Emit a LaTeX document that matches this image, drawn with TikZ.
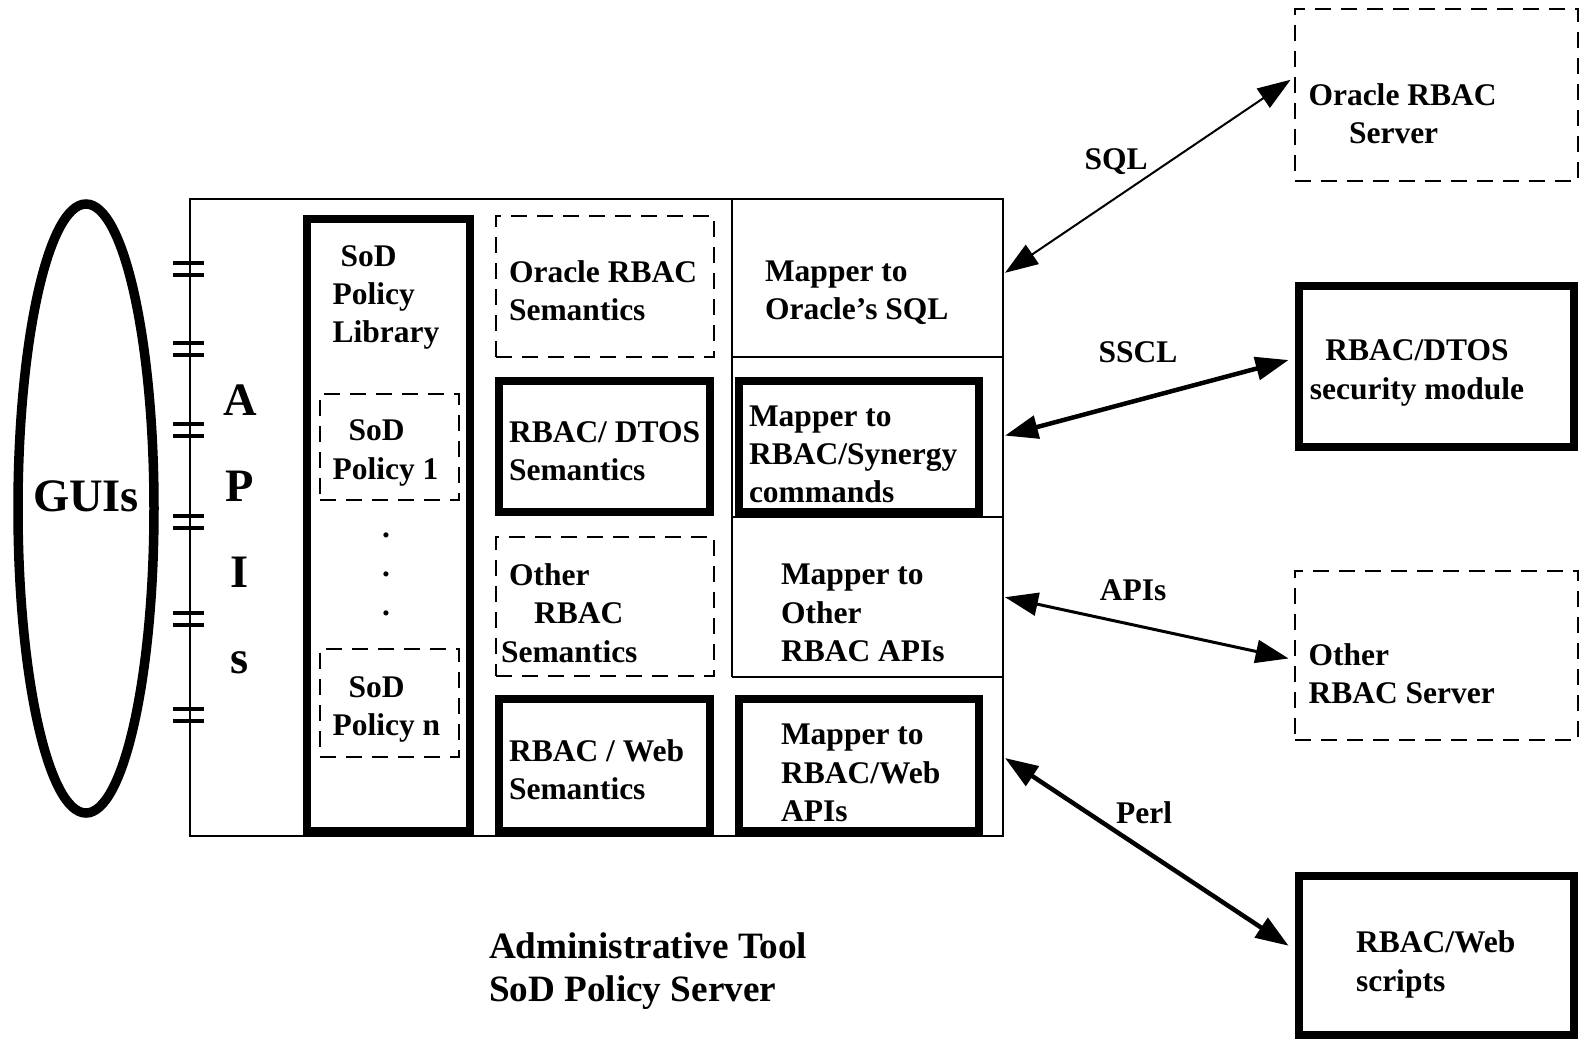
\documentclass[tikz,border=0pt]{standalone}
\usepackage{fontspec}
\setmainfont{Liberation Serif}
\usetikzlibrary{arrows.meta,calc,shapes.geometric}
\begin{document}
\begin{tikzpicture}[x=1pt,y=-1pt,
  thinline/.style={line width=2pt},
  tickline/.style={line width=4pt},
  thickbox/.style={draw, rectangle, line width=8pt, inner sep=0pt, outer sep=0pt},
  dashbox/.style={draw, rectangle, line width=2pt, dash pattern=on 16pt off 10pt, inner sep=0pt, outer sep=0pt},
  cellbox/.style={rectangle, inner sep=0pt, outer sep=0pt},
  txt/.style={font=\bfseries\fontsize{31.5pt}{38.3pt}\selectfont, align=left, inner sep=0pt, outer sep=0pt, anchor=west},
  ctxt/.style={txt, align=center, anchor=center},
  bigtxt/.style={font=\bfseries\fontsize{46.5pt}{85pt}\selectfont, align=center, inner sep=0pt, anchor=center},
  biarrow/.style={{Triangle[length=33pt,width=23pt]}-{Triangle[length=33pt,width=23pt]}}
]
\useasboundingbox (0,0) rectangle (1581,1044);

% GUIs ellipse
\node[draw, ellipse, line width=9.5pt, minimum width=136pt, minimum height=609pt, inner sep=0pt] (gui) at (86,508.5) {};
\node[bigtxt] (tgui) at (86,496) {GUIs};

% main box
\draw[thinline] (189.5,198.6) rectangle (1003,835.6);

% API ticks
\foreach \t in {269,349,430,522,619,715} {
  \draw[tickline] (173,\t-6) -- (204,\t-6);
  \draw[tickline] (173,\t+6) -- (204,\t+6);
}
\node[bigtxt, font=\bfseries\fontsize{46.5pt}{86pt}\selectfont] (tapis) at (240,529) {A\\P\\I\\s};

% SoD policy library
\node[thickbox, minimum width=163.3pt, minimum height=611.6pt] (lib) at (388.15,524.8) {};
\node[txt] (tlib) at (332.6,297.5) {\hspace*{8pt}SoD\\Policy\\Library};
\node[dashbox, minimum width=139pt, minimum height=106pt] (pol1) at (389,447) {};
\node[txt] (tpol1) at (332.6,453) {\hspace*{16pt}SoD\\Policy 1};
\node[dashbox, minimum width=139pt, minimum height=108pt] (poln) at (389,703) {};
\node[txt] (tpoln) at (332.6,709.5) {\hspace*{16pt}SoD\\Policy n};
\node[ctxt, font=\bfseries\fontsize{31.5pt}{39pt}\selectfont] (tdots) at (386,574) {.\\.\\.};

% semantics column
\node[dashbox, minimum width=217.7pt, minimum height=141.1pt] (semora) at (604.85,286.25) {};
\node[txt] (tsemora) at (509,290.5) {Oracle RBAC\\Semantics};
\node[thickbox, minimum width=210.7pt, minimum height=131pt] (semdtos) at (604.35,446.5) {};
\node[txt] (tsemdtos) at (509,451) {RBAC/ DTOS\\Semantics};
\node[dashbox, minimum width=217.7pt, minimum height=139.4pt] (semoth) at (604.85,606.7) {};
\node[txt] (tsemoth) at (501,613) {\hspace*{8pt}Other\\\hspace*{33pt}RBAC\\Semantics};
\node[thickbox, minimum width=210.7pt, minimum height=131.1pt] (semweb) at (604.35,765) {};
\node[txt] (tsemweb) at (509,769.5) {RBAC / Web\\Semantics};

% mapper column
\draw[thinline] (732,198.6) -- (732,677.4);
\draw[thinline] (732,357) -- (1003,357);
\draw[thinline] (732,517) -- (1003,517);
\draw[thinline] (732,677.4) -- (1003,677.4);
\node[cellbox, minimum width=271pt, minimum height=158.4pt] (cellsql) at (867.5,277.8) {};
\node[cellbox, minimum width=271pt, minimum height=160pt] (cellsyn) at (867.5,437) {};
\node[cellbox, minimum width=271pt, minimum height=160.4pt] (celloth) at (867.5,597.2) {};
\node[cellbox, minimum width=271pt, minimum height=158.2pt] (cellweb) at (867.5,756.5) {};
\node[txt] (tmapsql) at (765,292.5) {Mapper to\\Oracle’s SQL};
\node[thickbox, minimum width=240pt, minimum height=131pt] (mapsyn) at (859,446.5) {};
\node[txt] (tmapsyn) at (749,454.5) {Mapper to\\RBAC/Synergy\\commands};
\node[txt] (tmapoth) at (781,613) {Mapper to\\Other\\RBAC APIs};
\node[thickbox, minimum width=240pt, minimum height=131.1pt] (mapweb) at (859,765) {};
\node[txt] (tmapweb) at (781,773) {Mapper to\\RBAC/Web\\APIs};

% right boxes
\node[dashbox, minimum width=283.4pt, minimum height=171.5pt] (oraserv) at (1436.3,94.75) {};
\node[txt] (toraserv) at (1308.5,114) {Oracle RBAC\\\hspace*{40.5pt}Server};
\node[thickbox, minimum width=275pt, minimum height=160.6pt] (dtosmod) at (1436.5,366.3) {};
\node[ctxt] (tdtosmod) at (1417,373) {RBAC/DTOS\\security module};
\node[dashbox, minimum width=283.4pt, minimum height=169.5pt] (othserv) at (1436.3,655.25) {};
\node[txt] (tothserv) at (1308.5,673.5) {Other\\RBAC Server};
\node[thickbox, minimum width=275pt, minimum height=158.5pt] (webscr) at (1436.5,955.25) {};
\node[txt] (twebscr) at (1356,964.5) {RBAC/Web\\scripts};

% connectors
\draw[biarrow, line width=2pt] ($(cellsql.east)+(2,-5)$) -- ($(oraserv.west)+(-4,-15)$);
\draw[biarrow, line width=4.5pt] ($(cellsyn.east)+(2,-1.4)$) -- ($(dtosmod.west)+(-10.4,-6.3)$);
\draw[biarrow, line width=3pt] ($(celloth.east)+(2,0)$) -- ($(othserv.west)+(-6,3.2)$);
\draw[biarrow, line width=4.5pt] ($(cellweb.east)+(2,1.5)$) -- ($(webscr.west)+(-10.4,-9.5)$);
\node[ctxt] (lsql) at (1116,162) {SQL};
\node[ctxt] (lsscl) at (1138,352) {SSCL};
\node[ctxt] (lapis) at (1133,590.5) {APIs};
\node[ctxt] (lperl) at (1144,813) {Perl};

% caption
\node[txt, font=\bfseries\fontsize{37.2pt}{42.4pt}\selectfont] (tadmin) at (489,971) {Administrative Tool\\SoD Policy Server};
\end{tikzpicture}
\end{document}
